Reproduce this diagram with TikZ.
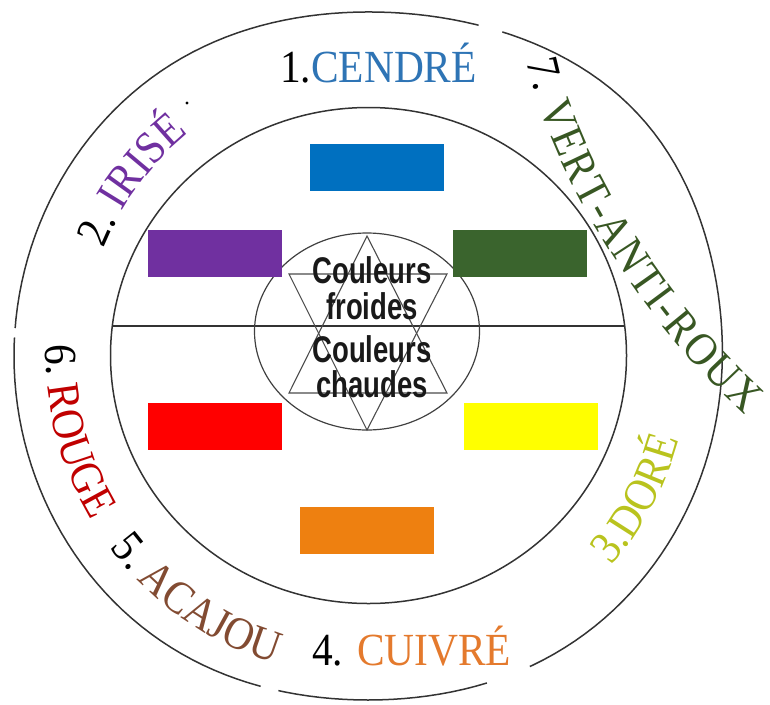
\documentclass[tikz,border=0pt]{standalone}
\usepackage{fontspec}
\usepackage{graphicx}
\setmainfont{Liberation Serif}
\newfontfamily\lblfam[FakeStretch=0.9]{Liberation Serif}
\newfontfamily\sansfam{Liberation Sans}
\usetikzlibrary{decorations.text,shapes.geometric}
\definecolor{cendre}{RGB}{46,116,181}
\definecolor{irise}{RGB}{112,48,160}
\definecolor{vert}{RGB}{56,87,35}
\definecolor{dore}{RGB}{185,195,30}
\definecolor{cuivre}{RGB}{228,122,45}
\definecolor{acajou}{RGB}{130,75,50}
\definecolor{rouge}{RGB}{192,0,0}
\definecolor{fblue}{RGB}{0,112,192}
\definecolor{fpurple}{RGB}{112,48,160}
\definecolor{fgreen}{RGB}{58,100,45}
\definecolor{fred}{RGB}{255,0,0}
\definecolor{fyellow}{RGB}{255,255,0}
\definecolor{forange}{RGB}{238,128,16}
\newcommand\lbl{\lblfam\fontsize{46}{50}\selectfont}
\newcommand\ctext[1]{\scalebox{1}[1.35]{#1}}
\begin{document}
\begin{tikzpicture}[x=1pt,y=1pt,
  declare function={sq(\x)=\x*\x; cb(\t)=max(0,cos(\t-40)); Rout(\t)=354-10*sq(sq(sq(sin(\t))))+9*sq(sq(sq(cb(\t))))*sq(sq(cb(\t)));},
  ring/.style={draw=black!80, line width=1.5pt, line join=round},
  gapw/.style={draw=white, line width=6pt},
  starline/.style={draw=black!70, line width=1.1pt},
  swatch/.style={inner sep=0pt, minimum width=134pt, minimum height=47pt},
  core/.style={font=\sansfam\bfseries\fontsize{27.5}{30}\selectfont, text=black!90, anchor=base, inner sep=0pt},
  curved/.style={decorate, decoration={text along path, text align=center, text={#1}}}
]
\useasboundingbox (0,0) rectangle (770,-704);
\coordinate (C) at (368,-355);
\coordinate (Ci) at (368.5,-355.5);
% rings
\draw[ring] plot[domain=0:360, samples=181, variable=\t] ({368+Rout(\t)*cos(\t)},{-356+Rout(\t)*sin(\t)}) -- cycle;
\draw[ring] (Ci) ellipse [x radius=258, y radius=248];
% scan gaps in the outer ring
\draw[gapw] plot[domain=67.5:71.5, samples=6, variable=\t] ({368+Rout(\t)*cos(\t)},{-356+Rout(\t)*sin(\t)});
\draw[gapw] plot[domain=-70:-62.5, samples=8, variable=\t] ({368+Rout(\t)*cos(\t)},{-356+Rout(\t)*sin(\t)});
\draw[gapw] plot[domain=252:255, samples=4, variable=\t] ({368+Rout(\t)*cos(\t)},{-356+Rout(\t)*sin(\t)});
\draw[gapw] plot[domain=175.5:177, samples=3, variable=\t] ({368+Rout(\t)*cos(\t)},{-356+Rout(\t)*sin(\t)});
% dividing line
\coordinate (hl) at (113,-326);
\coordinate (hr) at (625,-326);
\draw[ring] (hl) -- (hr);
% star
\coordinate (su) at (367,-236);
\coordinate (sl) at (289,-393);
\coordinate (sr) at (447,-393);
\coordinate (sd) at (367,-430);
\coordinate (tl) at (289,-274);
\coordinate (tr) at (447,-274);
\draw[starline] (su) -- (sl) -- (sr) -- cycle;
\draw[starline] (sd) -- (tl) -- (tr) -- cycle;
% centre ellipse
\node[ellipse, draw=black!75, line width=1.2pt, minimum width=225pt, minimum height=197pt, inner sep=0pt] (core) at (367,-331.5) {};
% swatches
\node[swatch, fill=fblue] (sblue) at (376.5,-167) {};
\node[swatch, fill=fpurple] (spurple) at (215,-253.5) {};
\node[swatch, fill=fgreen] (sgreen) at (520,-253.5) {};
\node[swatch, fill=fred] (sred) at (215,-426) {};
\node[swatch, fill=fyellow] (syellow) at (531,-426.5) {};
\node[swatch, fill=forange] (sorange) at (366.5,-530.5) {};
% centre text
\node[core] (cf1) at (372,-283) {\ctext{Couleurs}};
\node[core] (cf2) at (372,-319) {\ctext{froides}};
\node[core] (cc1) at (372,-362) {\ctext{Couleurs}};
\node[core] (cc2) at (372,-397) {\ctext{chaudes}};
% straight labels
\node[anchor=base west, inner sep=0pt, font=\lbl] (l1) at (280,-82) {1.\textcolor{cendre}{CENDRÉ}};
\node[anchor=base west, inner sep=0pt, font=\lbl] (l4) at (312,-665) {4. \textcolor{cuivre}{CUIVRÉ}};
% curved labels
\path[curved={|\lbl|2. |\lbl\color{irise}|IRISÉ}] (C) ++(183.5:285) arc[start angle=183.5, end angle=103.5, radius=285];
\fill[black] (187,-103) circle (1.6);
\path[curved={|\lbl|6. |\lbl\color{rouge}|ROUGE}] (C) ++(154.5:322) arc[start angle=154.5, end angle=234.5, radius=322];
\path[curved={|\lbl|5. |\lbl\color{acajou}|ACAJOU}] (C) ++(195:322) arc[start angle=195, end angle=275, radius=322];
\path[curved={|\lbl\color{dore}|3.DORÉ}] (C) ++(-68:322) arc[start angle=-68, end angle=12, radius=322];
\coordinate (v0) at (527,-61);
\coordinate (v1) at (745,-415);
\path[decorate, decoration={text along path, text align=fit to path, text={|\lbl|7. |\lbl\color{vert}|VERT-ANTI-ROUX}}] (v0) .. controls (545,-150) and (620,-300) .. (v1);
\end{tikzpicture}
\end{document}
